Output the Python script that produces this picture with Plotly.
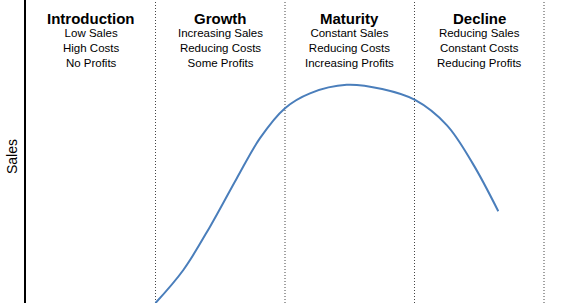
import plotly.graph_objects as go

# Data
stages = ["Introduction", "Growth", "Maturity", "Decline"]
stage_notes = [
    ["Low Sales", "High Costs", "No Profits"],
    ["Increasing Sales", "Reducing Costs", "Some Profits"],
    ["Constant Sales", "Reducing Costs", "Increasing Profits"],
    ["Reducing Sales", "Constant Costs", "Reducing Profits"],
]
boundaries = [1, 2, 3, 4]
curve_x = [1.0, 1.215, 1.421, 1.627, 1.807, 2.0, 2.193, 2.476, 2.75, 3.004,
           3.249, 3.45, 3.647]
curve_y = [0, 10.9, 25.2, 41.1, 54.4, 64.3, 69.2, 72.0, 70.6, 67.0,
           58.7, 46.0, 30.3]

W, H = 577, 303
L = 26
XMAX = (W - L) / 129.5
FONT = "Liberation Sans, Arial"

fig = go.Figure()
fig.add_trace(go.Scatter(
    x=curve_x, y=curve_y, mode="lines",
    line=dict(color="#4a7ebb", width=2, shape="spline", smoothing=1),
    hoverinfo="skip", showlegend=False,
))

for b in boundaries:
    fig.add_shape(type="line", xref="x", yref="paper", x0=b, x1=b, y0=0, y1=1,
                  line=dict(color="#444444", width=1, dash="1px,2px"), layer="below")

for i, (name, notes) in enumerate(zip(stages, stage_notes)):
    cx = i + 0.5
    fig.add_annotation(x=cx, y=1 - 18 / H, xref="x", yref="paper",
                       text="<b>%s</b>" % name, showarrow=False,
                       font=dict(family=FONT, size=15, color="#000"),
                       xanchor="center", yanchor="middle")
    fig.add_annotation(x=cx, y=1 - 48 / H, xref="x", yref="paper",
                       text="<br>".join(notes), showarrow=False,
                       font=dict(family=FONT, size=11.5, color="#000"),
                       xanchor="center", yanchor="middle")

fig.add_annotation(x=(12 - L) / (W - L), y=1 - 157 / H, xref="paper", yref="paper",
                   text="Sales", textangle=-90, showarrow=False,
                   font=dict(family=FONT, size=14, color="#000"),
                   xanchor="center", yanchor="middle")

fig.update_layout(
    width=W, height=H,
    margin=dict(l=L, r=0, t=0, b=0),
    paper_bgcolor="white", plot_bgcolor="white",
    xaxis=dict(range=[0, XMAX], visible=False, showgrid=False, zeroline=False),
    yaxis=dict(range=[0, 100], showgrid=False, zeroline=False, showticklabels=False,
               ticks="", showline=True, linecolor="black", linewidth=2),
)

fig.write_html("out.html")
